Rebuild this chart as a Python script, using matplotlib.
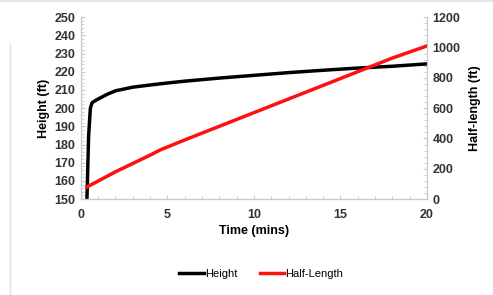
import matplotlib.pyplot as plt
from matplotlib.ticker import MultipleLocator

# -------- DATA --------
time_h = [0.35, 0.38, 0.45, 0.55, 0.65, 0.9, 1.5, 2, 3, 4, 5, 6, 8, 10, 12, 14, 16, 18, 20]
height = [150, 160, 185, 200, 203, 204.5, 207.5, 209.5, 211.5, 212.7, 213.8, 214.8,
          216.5, 218, 219.5, 220.8, 222, 223, 224.3]

time_l = [0.35, 2, 4, 4.6, 6, 8, 10, 12, 14, 16, 18, 20]
half_len = [80, 180, 290, 325, 390, 480, 570, 660, 750, 840, 930, 1010]

plt.rcParams["font.family"] = ["Liberation Sans", "DejaVu Sans"]

fig = plt.figure(figsize=(4.93, 2.95), dpi=100)
ax = fig.add_axes([0.164, 0.325, 0.702, 0.617])
ax2 = ax.twinx()

l1, = ax.plot(time_h, height, color="black", linewidth=2.5, label="Height")
l2, = ax2.plot(time_l, half_len, color="#ff1010", linewidth=2.5, label="Half-Length")

ax.set_xlim(0, 20)
ax.set_ylim(150, 250)
ax2.set_ylim(0, 1200)
ax.set_xticks([0, 5, 10, 15, 20])
ax.set_yticks(range(150, 251, 10))
ax2.set_yticks(range(0, 1201, 200))
ax.xaxis.set_minor_locator(MultipleLocator(1))
ax.yaxis.set_minor_locator(MultipleLocator(2))
ax2.yaxis.set_minor_locator(MultipleLocator(40))

for a in (ax, ax2):
    for s in a.spines.values():
        s.set_color("#c8c8c8")
    a.spines["top"].set_visible(False)
    a.tick_params(which="both", direction="in", color="#c8c8c8", labelsize=9, pad=4)
    a.tick_params(which="minor", length=2)
    a.tick_params(which="major", length=3)
    for lab in a.get_xticklabels() + a.get_yticklabels():
        lab.set_fontweight("bold")
        lab.set_color("#333333")
ax.tick_params(axis="x", pad=7)

ax.set_xlabel("Time (mins)", fontsize=9, fontweight="bold", labelpad=3)
ax.set_ylabel("Height (ft)", fontsize=9, fontweight="bold", labelpad=3)
ax2.set_ylabel("Half-length (ft)", fontsize=9, fontweight="bold", labelpad=6)

fig.legend(handles=[l1, l2], loc="center", bbox_to_anchor=(0.53, 0.07), ncol=2,
           frameon=False, fontsize=8, handlelength=2.2, handletextpad=0.1,
           columnspacing=2.0)

# faint scan border
fig.add_artist(plt.Line2D([0.02, 0.02], [0.0, 0.85], color="#e0e0e0", lw=1))
fig.add_artist(plt.Line2D([0.0, 1.0], [0.995, 0.995], color="#e6e6e6", lw=1.5))

fig.savefig("out.png", dpi=100)
